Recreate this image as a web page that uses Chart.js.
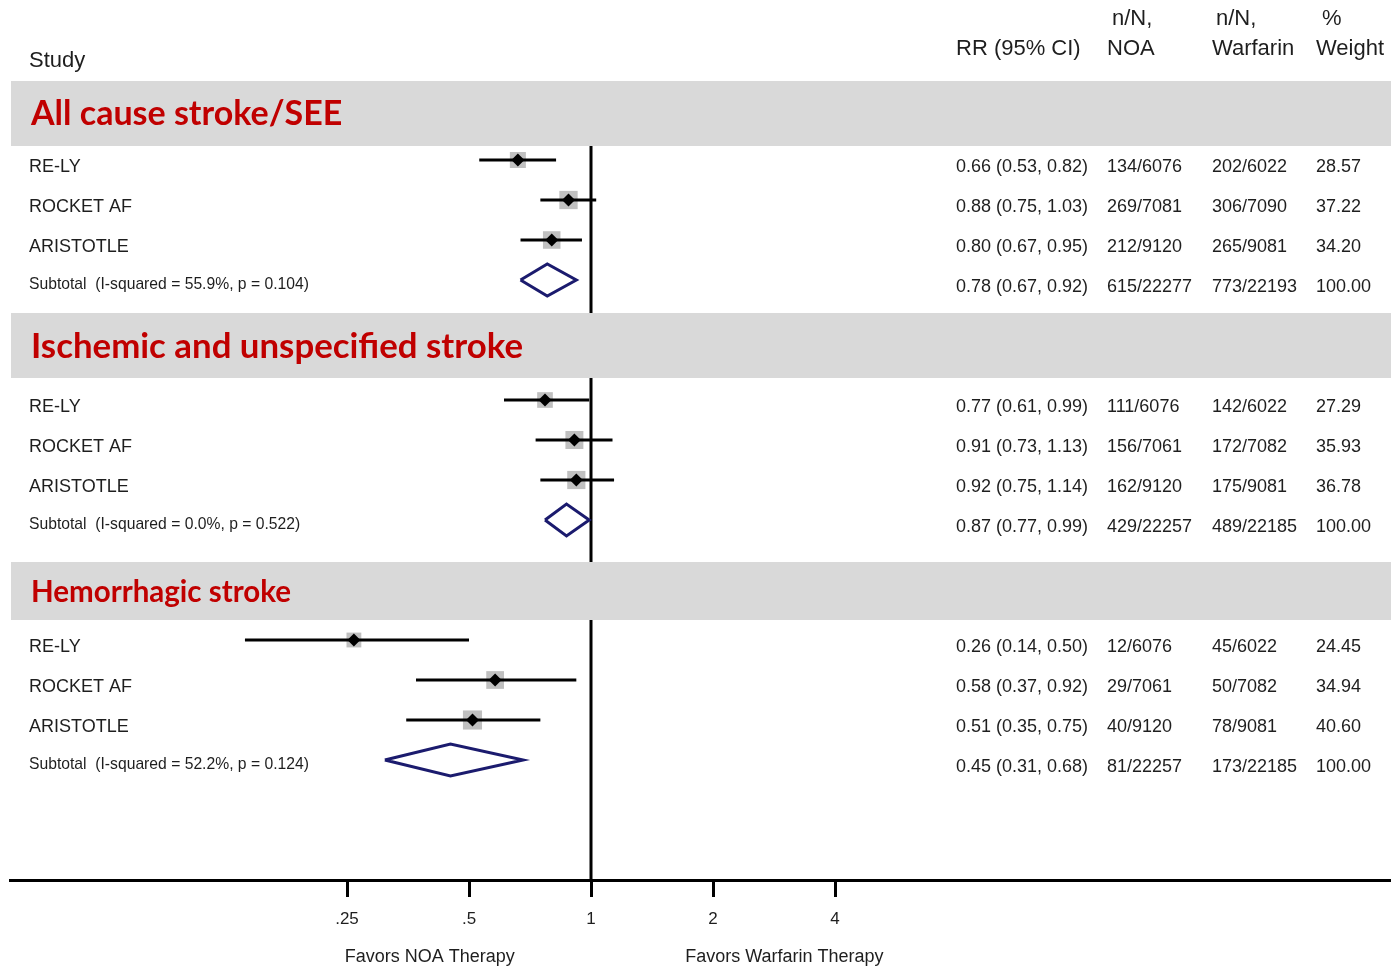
<!DOCTYPE html>
<html>
<head>
<meta charset="utf-8">
<script src="https://cdn.jsdelivr.net/npm/chart.js@4.4.0/dist/chart.umd.min.js"></script>
<style>
  html, body { margin: 0; padding: 0; background: #fff; }
  #wrap { width: 1391px; height: 967px; position: relative; }
</style>
</head>
<body>
<div id="wrap"><canvas id="forest"></canvas></div>
<script>
// --- data ---
var groupTitles = ['All cause stroke/SEE', 'Ischemic and unspecified stroke', 'Hemorrhagic stroke'];
var studies = ['RE-LY', 'ROCKET AF', 'ARISTOTLE'];

var rrEst  = [[0.66, 0.88, 0.80], [0.77, 0.91, 0.92], [0.26, 0.58, 0.51]];
var rrLow  = [[0.53, 0.75, 0.67], [0.61, 0.73, 0.75], [0.14, 0.37, 0.35]];
var rrHigh = [[0.82, 1.03, 0.95], [0.99, 1.13, 1.14], [0.50, 0.92, 0.75]];
var weights = [[28.57, 37.22, 34.20], [27.29, 35.93, 36.78], [24.45, 34.94, 40.60]];

var subEst  = [0.78, 0.87, 0.45];
var subLow  = [0.67, 0.77, 0.31];
var subHigh = [0.92, 0.99, 0.68];
var subNote = ['(I-squared = 55.9%, p = 0.104)', '(I-squared = 0.0%, p = 0.522)', '(I-squared = 52.2%, p = 0.124)'];

var noaCounts  = [['134/6076', '269/7081', '212/9120', '615/22277'],
                  ['111/6076', '156/7061', '162/9120', '429/22257'],
                  ['12/6076', '29/7061', '40/9120', '81/22257']];
var warfCounts = [['202/6022', '306/7090', '265/9081', '773/22193'],
                  ['142/6022', '172/7082', '175/9081', '489/22185'],
                  ['45/6022', '50/7082', '78/9081', '173/22185']];

var tickValues = [0.25, 0.5, 1, 2, 4];
var tickLabels = ['.25', '.5', '1', '2', '4'];
var favorsLabels = ['Favors NOA Therapy', 'Favors Warfarin Therapy'];

// --- layout (rows in y units, 6 rows per group) ---
var ROWS_PER_GROUP = 6;
var bandSpan = [[-1.975, -0.35], [-2.175, -0.55], [-1.95, -0.5]];
var titleSize = [34, 34.8, 29.5];
var favorsAt = [0.4, 3];
var TEXT_DY = 7;   // text sits a little below the marker row
var FONT = '"Liberation Sans", Arial, sans-serif';
var TXT = '#1e1e1e';

function rowY(g, i) { return g * ROWS_PER_GROUP + i; }

var datasets = [];
var squares = [], squareR = [], diamonds = [];
for (let g = 0; g < groupTitles.length; g++) {
    for (let i = 0; i < studies.length; i++) {
        let y = rowY(g, i);
        datasets.push({
            data: [{x: rrLow[g][i], y: y}, {x: rrHigh[g][i], y: y}],
            showLine: true, borderColor: '#000', borderWidth: 3,
            pointRadius: 0, order: 2
        });
        squares.push({x: rrEst[g][i], y: y});
        squareR.push(3 * Math.sqrt(weights[g][i]) / Math.SQRT2);
        diamonds.push({x: rrEst[g][i], y: y});
    }
    // pooled estimate diamond
    let ys = rowY(g, 3);
    datasets.push({
        data: [{x: subLow[g], y: ys}, {x: subEst[g], y: ys - 0.4},
               {x: subHigh[g], y: ys}, {x: subEst[g], y: ys + 0.4},
               {x: subLow[g], y: ys}],
        showLine: true, borderColor: '#1b1b6e', borderWidth: 3,
        pointRadius: 0, tension: 0, order: 1
    });
}
datasets.push({
    data: squares, pointStyle: 'rect', pointRadius: squareR,
    backgroundColor: '#c0c0c0', borderWidth: 0, order: 3
});
datasets.push({
    data: diamonds, pointStyle: 'rectRot', pointRadius: 6.5,
    backgroundColor: '#000', borderWidth: 0, order: 0
});

function fmt(v) { return v.toFixed(2); }

var forestPlugin = {
    id: 'forestTable',
    beforeDatasetsDraw: function(chart) {
        var c = chart.ctx, xs = chart.scales.x, ysc = chart.scales.y, a = chart.chartArea;
        c.save();
        // null line at RR = 1
        var x1 = xs.getPixelForValue(1);
        c.strokeStyle = '#000';
        c.lineWidth = 3;
        c.beginPath();
        c.moveTo(x1, ysc.getPixelForValue(bandSpan[0][1]));
        c.lineTo(x1, a.bottom);
        c.stroke();
        // grey group bands
        c.fillStyle = '#d9d9d9';
        for (let g = 0; g < groupTitles.length; g++) {
            let t = ysc.getPixelForValue(rowY(g, 0) + bandSpan[g][0]);
            let b = ysc.getPixelForValue(rowY(g, 0) + bandSpan[g][1]);
            c.fillRect(a.left + 1, t, a.right - a.left, b - t);
        }
        c.restore();
    },
    afterDraw: function(chart) {
        var c = chart.ctx, xs = chart.scales.x, ysc = chart.scales.y;
        c.save();
        c.fillStyle = TXT;
        c.textBaseline = 'middle';
        c.textAlign = 'left';

        // column headers
        c.font = '22px ' + FONT;
        c.fillText('Study', 29, 61);
        c.fillText('RR (95% CI)', 956, 49);
        c.fillText('n/N,', 1112, 19);
        c.fillText('NOA', 1107, 49);
        c.fillText('n/N,', 1216, 19);
        c.fillText('Warfarin', 1212, 49);
        c.fillText('%', 1322, 19);
        c.fillText('Weight', 1316, 49);

        for (let g = 0; g < groupTitles.length; g++) {
            // group title
            let t = ysc.getPixelForValue(rowY(g, 0) + bandSpan[g][0]);
            let b = ysc.getPixelForValue(rowY(g, 0) + bandSpan[g][1]);
            c.fillStyle = '#c00000';
            c.font = 'bold ' + titleSize[g] + 'px Lato, "Open Sans", sans-serif';
            c.fillText(groupTitles[g], 31, (t + b) / 2 + 1);

            c.fillStyle = TXT;
            c.font = '18px ' + FONT;
            for (let i = 0; i < studies.length; i++) {
                let y = ysc.getPixelForValue(rowY(g, i)) + TEXT_DY;
                c.fillText(studies[i], 29, y);
                c.fillText(fmt(rrEst[g][i]) + ' (' + fmt(rrLow[g][i]) + ', ' + fmt(rrHigh[g][i]) + ')', 956, y);
                c.fillText(noaCounts[g][i], 1107, y);
                c.fillText(warfCounts[g][i], 1212, y);
                c.fillText(fmt(weights[g][i]), 1316, y);
            }
            let ys = ysc.getPixelForValue(rowY(g, 3)) + TEXT_DY;
            c.fillText(fmt(subEst[g]) + ' (' + fmt(subLow[g]) + ', ' + fmt(subHigh[g]) + ')', 956, ys);
            c.fillText(noaCounts[g][3], 1107, ys);
            c.fillText(warfCounts[g][3], 1212, ys);
            c.fillText('100.00', 1316, ys);
            c.font = '15.7px ' + FONT;
            c.fillText('Subtotal  ' + subNote[g], 29, ys - 2);
        }

        // direction labels under the axis
        c.font = '18px ' + FONT;
        c.textAlign = 'center';
        for (let k = 0; k < favorsLabels.length; k++) {
            c.fillText(favorsLabels[k], xs.getPixelForValue(favorsAt[k]), 957);
        }
        c.restore();
    }
};

new Chart(document.getElementById('forest'), {
    type: 'scatter',
    data: { datasets: datasets },
    options: {
        responsive: true,
        maintainAspectRatio: false,
        animation: false,
        layout: { autoPadding: false, padding: { left: 10, right: 0, top: 0, bottom: 0 } },
        plugins: { legend: { display: false }, tooltip: { enabled: false } },
        scales: {
            x: {
                type: 'logarithmic',
                min: Math.pow(2, -581 / 122),
                max: Math.pow(2, 800 / 122),
                afterFit: function(scale) { scale.height = 87; },
                afterBuildTicks: function(scale) {
                    scale.ticks = tickValues.map(function(v) { return {value: v}; });
                },
                ticks: {
                    callback: function(v, i) { return tickLabels[i]; },
                    autoSkip: false, maxRotation: 0,
                    padding: 12, color: TXT,
                    font: { family: FONT, size: 17 }
                },
                grid: {
                    drawOnChartArea: false, drawTicks: true,
                    tickLength: 17, tickWidth: 3, tickColor: '#000'
                },
                border: { display: true, color: '#000', width: 3 }
            },
            y: { type: 'linear', display: false, min: -4, max: 18, reverse: true }
        }
    },
    plugins: [forestPlugin]
});
</script>
</body>
</html>
